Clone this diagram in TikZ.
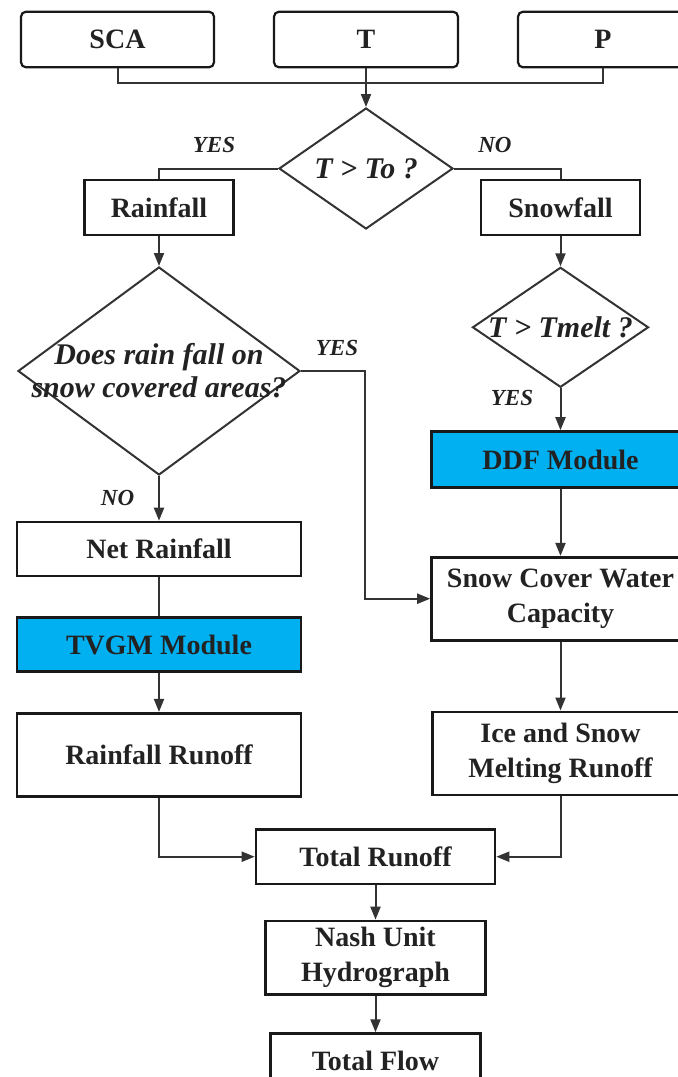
\documentclass[tikz,border=0pt]{standalone}
\usepackage{fontspec}
\setmainfont{Liberation Serif}
\usetikzlibrary{arrows.meta, positioning, shapes.geometric}
\definecolor{ModCyan}{RGB}{0,176,240}
\definecolor{Linegrey}{RGB}{51,51,51}
\definecolor{Textgrey}{RGB}{34,34,34}

\begin{document}
\begin{tikzpicture}[
            x=0.5pt, y=-0.5pt,
            node distance=19.5pt,
            inbox/.style={
                draw=black!90,
                line width=1.1pt,
                rounded corners=2.5pt,
                minimum height=27.8pt,
                font=\bfseries\fontsize{14}{17}\selectfont,
                text=Textgrey
            },
            flowbox/.style={
                draw=black!90,
                line width=1.3pt,
                align=center,
                inner sep=0pt,
                font=\bfseries\fontsize{14}{17.5}\selectfont,
                text=Textgrey
            },
            modbox/.style={flowbox, fill=ModCyan},
            decision/.style={
                diamond,
                draw=Linegrey,
                line width=1pt,
                inner sep=0pt
            },
            asktext/.style={
                align=center,
                font=\bfseries\itshape\fontsize{15}{16.5}\selectfont,
                text=Textgrey
            },
            answer/.style={font=\bfseries\itshape\fontsize{11.5}{13}\selectfont, text=Textgrey},
            arrow/.style={-{Triangle[length=6.5pt,width=5pt]}, line width=1pt, draw=Linegrey},
            link/.style={line width=1pt, draw=Linegrey}
        ]
            \clip (0,0) rectangle (678,1077);

            \node[inbox, minimum width=96.5pt] (sca) at (117.5,39.5) {SCA};
            \node[inbox, minimum width=92pt] (temp) at (366,39.5) {T};
            \node[inbox, minimum width=85pt] (prec) at (603,39.5) {P};

            \node[decision, minimum width=87pt, minimum height=60.5pt] (thr) at (366,168.5) {};
            \node[asktext] (thrq) at (thr.center) {T > To ?};
            \node[flowbox, minimum width=74.75pt, minimum height=27.5pt] (rain) at (159,207.5) {Rainfall};
            \node[flowbox, minimum width=79.5pt, minimum height=27.5pt] (snow) at (560.5,207.5) {Snowfall};

            \node[decision, minimum width=141pt, minimum height=104pt] (cover) at (159,371) {};
            \node[asktext] (coverq) at (cover.center) {Does rain fall on\\snow covered areas?};
            \node[decision, minimum width=88pt, minimum height=60pt] (melt) at (560.5,327.3) {};
            \node[asktext] (meltq) at (melt.center) {T > Tmelt ?};

            \node[modbox, minimum width=129pt, minimum height=28pt] (ddf) at (560.5,459.5) {DDF Module};
            \node[flowbox, minimum width=129pt, minimum height=41.5pt] (scwc) at (560.5,598.7) {Snow Cover Water\\Capacity};
            \node[flowbox, minimum width=128pt, minimum height=41.5pt, below=34.5pt of scwc] (ice) {Ice and Snow\\Melting Runoff};

            \node[flowbox, minimum width=142pt, minimum height=27pt] (net) at (159,549) {Net Rainfall};
            \node[modbox, minimum width=142pt, minimum height=27pt, below=of net] (tvgm) {TVGM Module};
            \node[flowbox, minimum width=142pt, minimum height=41.7pt, below=of tvgm] (rro) {Rainfall Runoff};

            \node[flowbox, minimum width=119.5pt, minimum height=27.35pt] (tro) at (375.5,856.7) {Total Runoff};
            \node[flowbox, minimum width=110pt, minimum height=36.7pt, below=17.15pt of tro] (nash) {Nash Unit\\Hydrograph};
            \node[flowbox, minimum width=105pt, minimum height=27.5pt, below=18.3pt of nash] (flow) {Total Flow};

            \node[answer] (yes1) at (214,145) {YES};
            \node[answer] (no1) at (495,145) {NO};
            \node[answer] (yes2) at (337,348) {YES};
            \node[answer] (yes3) at (512,398) {YES};
            \node[answer] (no2) at (117.6,498) {NO};

            \coordinate (join) at (366,83);
            \coordinate (turn) at (365,598.7);

            \draw[link] (sca.south) |- (join) -| (prec.south);
            \draw[arrow] (temp.south) -- (thr.north);
            \draw[link] (thr.west) -| (rain.north);
            \draw[link] (thr.east) -| (snow.north);
            \draw[arrow] (rain.south) -- (cover.north);
            \draw[arrow] (snow.south) -- (melt.north);
            \draw[arrow] (cover.east) -| (turn) -- (scwc.west);
            \draw[arrow] (cover.south) -- (net.north);
            \draw[link] (net.south) -- (tvgm.north);
            \draw[arrow] (tvgm.south) -- (rro.north);
            \draw[arrow] (melt.south) -- (ddf.north);
            \draw[arrow] (ddf.south) -- (scwc.north);
            \draw[arrow] (scwc.south) -- (ice.north);
            \draw[arrow] (rro.south) |- (tro.west);
            \draw[arrow] (ice.south) |- (tro.east);
            \draw[arrow] (tro.south) -- (nash.north);
            \draw[arrow] (nash.south) -- (flow.north);
        \end{tikzpicture}
\end{document}
